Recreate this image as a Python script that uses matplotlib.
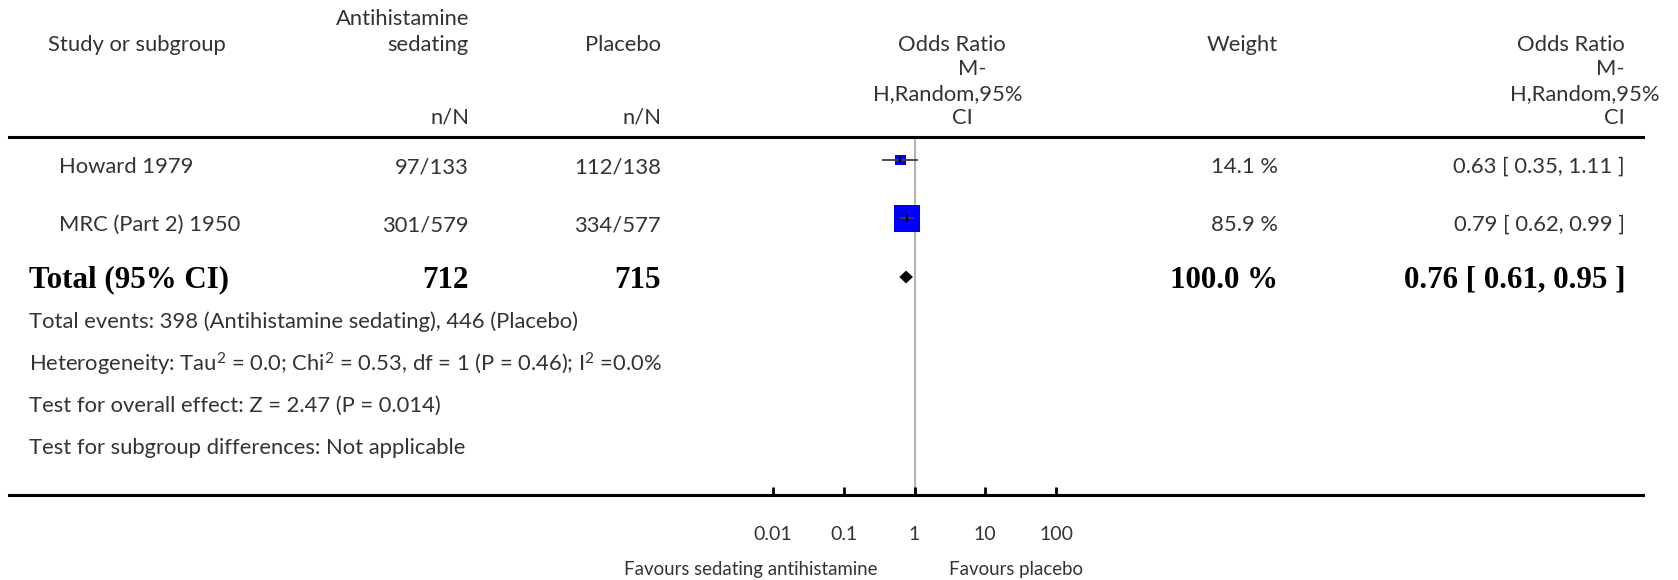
import matplotlib.pyplot as plt
from matplotlib.lines import Line2D
from matplotlib.ticker import NullLocator

# data
studies = ["Howard 1979", "MRC (Part 2) 1950"]
treat_events = ["97/133", "301/579"]
ctrl_events = ["112/138", "334/577"]
weights = [14.1, 85.9]
odds = [0.63, 0.79]
ci_low = [0.35, 0.62]
ci_high = [1.11, 0.99]

total_treat = "712"
total_ctrl = "715"
total_weight = "100.0 %"
total_or = 0.76
total_low = 0.61
total_high = 0.95

tick_vals = [0.01, 0.1, 1, 10, 100]
tick_labels = ["0.01", "0.1", "1", "10", "100"]

footer = [
    "Total events: 398 (Antihistamine sedating), 446 (Placebo)",
    "Heterogeneity: Tau$^2$ = 0.0; Chi$^2$ = 0.53, df = 1 (P = 0.46); I$^2$ =0.0%",
    "Test for overall effect: Z = 2.47 (P = 0.014)",
    "Test for subgroup differences: Not applicable",
]

W, H = 1678, 580
plt.rcParams['font.family'] = ['Lato', 'DejaVu Sans']
plt.rcParams['mathtext.fontset'] = 'custom'
plt.rcParams['mathtext.rm'] = 'Lato'
plt.rcParams['mathtext.it'] = 'Lato'

fig = plt.figure(figsize=(W / 100, H / 100), dpi=100)

FS = 15.8
GREY = '#333333'


def put(x, y, s, ha='left', **kw):
    kw.setdefault('fontsize', FS)
    kw.setdefault('color', GREY)
    fig.text(x / W, 1 - y / H, s, ha=ha, va='center', **kw)


def bold(x, y, s, ha='right'):
    fig.text(x / W, 1 - y / H, s, ha=ha, va='center', fontsize=22.3,
             fontweight='bold', family='Liberation Serif', color='black')


# header
put(48, 45, "Study or subgroup")
put(469, 19, "Antihistamine", ha='right')
put(469, 45, "sedating", ha='right')
put(469, 118, "n/N", ha='right')
put(661, 45, "Placebo", ha='right')
put(661, 118, "n/N", ha='right')
put(952, 45, "Odds Ratio", ha='center')
put(972, 69, "M-", ha='center')
put(948, 94, "H,Random,95%", ha='center')
put(962, 118, "CI", ha='center')
put(1278, 45, "Weight", ha='right')
put(1625, 45, "Odds Ratio", ha='right')
put(1625, 69, "M-", ha='right')
put(1660, 94, "H,Random,95%", ha='right')
put(1625, 118, "CI", ha='right')

# study rows
text_rows = [167, 225]
for i, name in enumerate(studies):
    y = text_rows[i]
    put(59, y, name)
    put(469, y, treat_events[i], ha='right')
    put(661, y, ctrl_events[i], ha='right')
    put(1278, y, "%.1f %%" % weights[i], ha='right')
    put(1625, y, "%.2f [ %.2f, %.2f ]" % (odds[i], ci_low[i], ci_high[i]), ha='right')

# total row
bold(29, 280, "Total (95% CI)", ha='left')
bold(469, 280, total_treat)
bold(661, 280, total_ctrl)
bold(1278, 280, total_weight)
bold(1625, 280, "%.2f [ %.2f, %.2f ]" % (total_or, total_low, total_high))

for k, line in enumerate(footer):
    put(29, 322 + k * 42, line)

# horizontal rules
fig.add_artist(Line2D([9 / W, 1643 / W], [1 - 137 / H] * 2, color='black', lw=2.2))
fig.add_artist(Line2D([9 / W, 1643 / W], [1 - 495 / H] * 2, color='black', lw=2.2))

# forest plot
ax = fig.add_axes([773 / W, 1 - 495 / H, (1056 - 773) / W, (495 - 137) / H])
ax.patch.set_visible(False)
ax.set_xscale('log')
ax.set_xlim(0.01, 100)
ax.set_ylim(5.726, -0.393)
for sp in ax.spines.values():
    sp.set_visible(False)
ax.set_yticks([])
ax.xaxis.set_minor_locator(NullLocator())
ax.set_xticks(tick_vals)
ax.set_xticklabels(tick_labels)
ax.tick_params(axis='x', direction='in', length=6, width=2, color='black',
               pad=22, labelsize=14, labelcolor=GREY)

ax.axvline(1, color='#b4b4b4', lw=1.5, zorder=1)

rows = list(range(len(studies)))
ax.scatter(odds, rows, s=[w * 4.1 for w in weights], marker='s',
           color='#0000ff', linewidths=0, zorder=3)
ax.hlines(rows, ci_low, ci_high, color='#404040', lw=1.3, zorder=4)
ax.plot(odds, rows, marker='|', ms=6, mew=1.3, color='black', ls='none', zorder=5)

ty = len(studies)
ax.fill([total_low, total_or, total_high, total_or],
        [ty, ty - 0.11, ty, ty + 0.11], color='black', lw=0, zorder=3)

put(877, 569, "Favours sedating antihistamine", ha='right', fontsize=13.4)
put(949, 569, "Favours placebo", ha='left', fontsize=13.4)

fig.savefig("out.png", dpi=100)
